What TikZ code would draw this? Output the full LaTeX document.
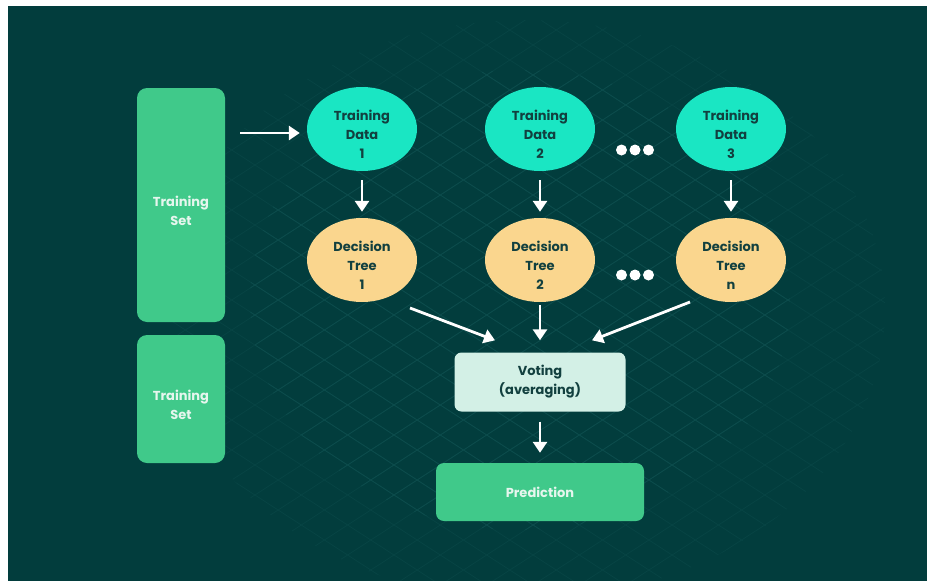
\documentclass[tikz,border=0pt]{standalone}
\usepackage{fontspec}
\setmainfont{Poppins}
\usetikzlibrary{shapes.geometric,arrows.meta,positioning}

\definecolor{bgteal}{HTML}{023D3D}
\definecolor{gridfaint}{HTML}{074444}
\definecolor{gridteal}{HTML}{0C4C4C}
\definecolor{setgreen}{HTML}{40C98A}
\definecolor{setink}{HTML}{E6F6EE}
\definecolor{datacyan}{HTML}{1AE6C3}
\definecolor{treeyellow}{HTML}{FAD68E}
\definecolor{votemint}{HTML}{D3F0E6}
\definecolor{inkteal}{HTML}{12403F}

% text block pushed a little below the centre of its shape
\newcommand{\lowstack}[1]{\raisebox{-7pt}[\height][\depth]{\begin{tabular}{@{}c@{}}#1\end{tabular}}}

\begin{document}
\begin{tikzpicture}[x=1pt,y=-1pt,>={Triangle[width=14pt,length=11pt]},
  label font/.style={font=\bfseries\fontsize{13}{19}\selectfont},
  setbox/.style={label font, fill=setgreen, text=setink, rounded corners=10pt, align=center, inner sep=0pt, minimum width=88pt},
  datanode/.style={label font, ellipse, fill=datacyan, text=inkteal, align=center, inner sep=0pt, minimum width=110pt, minimum height=84pt},
  treenode/.style={datanode, fill=treeyellow},
  link/.style={->, white, line width=2.8pt}]
\def\xmin{8}
\def\xmax{927}
\def\ymin{6}
\def\ymax{581}
\useasboundingbox (0,0) rectangle (\xmax,\ymax);

% page and backdrop
\fill[white] (0,0) rectangle (\xmax,\ymax);
\fill[bgteal] (\xmin,\ymin) rectangle (\xmax,\ymax);

% faint lattice, stronger towards the middle
\begin{scope}
\clip (\xmin,\ymin) rectangle (\xmax,\ymax);
\clip (525,310) ellipse (360 and 290);
\foreach \c in {-690,-660,...,1110}{
  \draw[gridfaint,line width=0.8pt] (0,\c) -- (927,\c+600);
  \draw[gridfaint,line width=0.8pt] (0,\c+600) -- (927,\c);
}
\end{scope}
\begin{scope}
\clip (520,300) ellipse (270 and 230);
\foreach \c in {-690,-660,...,1110}{
  \draw[gridteal,line width=0.8pt] (0,\c) -- (927,\c+600);
  \draw[gridteal,line width=0.8pt] (0,\c+600) -- (927,\c);
}
\end{scope}

% training sets
\node[setbox, minimum height=234pt] (set1) at (181,205) {\lowstack{Training\\Set}};
\node[setbox, minimum height=128pt] (set2) at (181,399) {\lowstack{Training\\Set}};

% bootstrap samples
\node[datanode] (data1) at (362,129) {\lowstack{Training\\Data\\1}};
\node[datanode] (data2) at (540,129) {\lowstack{Training\\Data\\2}};
\node[datanode] (data3) at (731,129) {\lowstack{Training\\Data\\3}};

% trees
\node[treenode] (tree1) at (362,260) {\lowstack{Decision\\Tree\\1}};
\node[treenode] (tree2) at (540,260) {\lowstack{Decision\\Tree\\2}};
\node[treenode] (treen) at (731,260) {\lowstack{Decision\\Tree\\n}};

% ellipsis dots
\foreach \y in {150,275}
  \foreach \dx in {-13.5,0,13.5}
    \fill[white] (635+\dx,\y) circle (5.5pt);

% voting and result
\node[label font, fill=votemint, text=inkteal, rounded corners=7pt, align=center, inner sep=0pt,
      minimum width=171pt, minimum height=59pt] (vote) at (540,382) {Voting\\(averaging)};
\node[setbox, rounded corners=8pt, minimum width=208pt, minimum height=58pt] (pred) at (540,492) {Prediction};

% arrows
\draw[link] ([shift={(15,-72)}]set1.east) -- ([shift={(-7,4)}]data1.west);
\foreach \i/\j in {data1/tree1,data2/tree2,data3/treen}
  \draw[link, shorten <=9pt, shorten >=6pt] (\i) -- (\j);
\draw[link] ([shift={(48,48)}]tree1.center) -- ([shift={(-45,-12)}]vote.north);
\draw[link] ([shift={(0,3)}]tree2.south) -- ([shift={(0,-12)}]vote.north);
\draw[link] ([shift={(-41,42)}]treen.center) -- ([shift={(52,-12)}]vote.north);
\draw[link, shorten <=10pt, shorten >=10pt] (vote) -- (pred);
\end{tikzpicture}
\end{document}
